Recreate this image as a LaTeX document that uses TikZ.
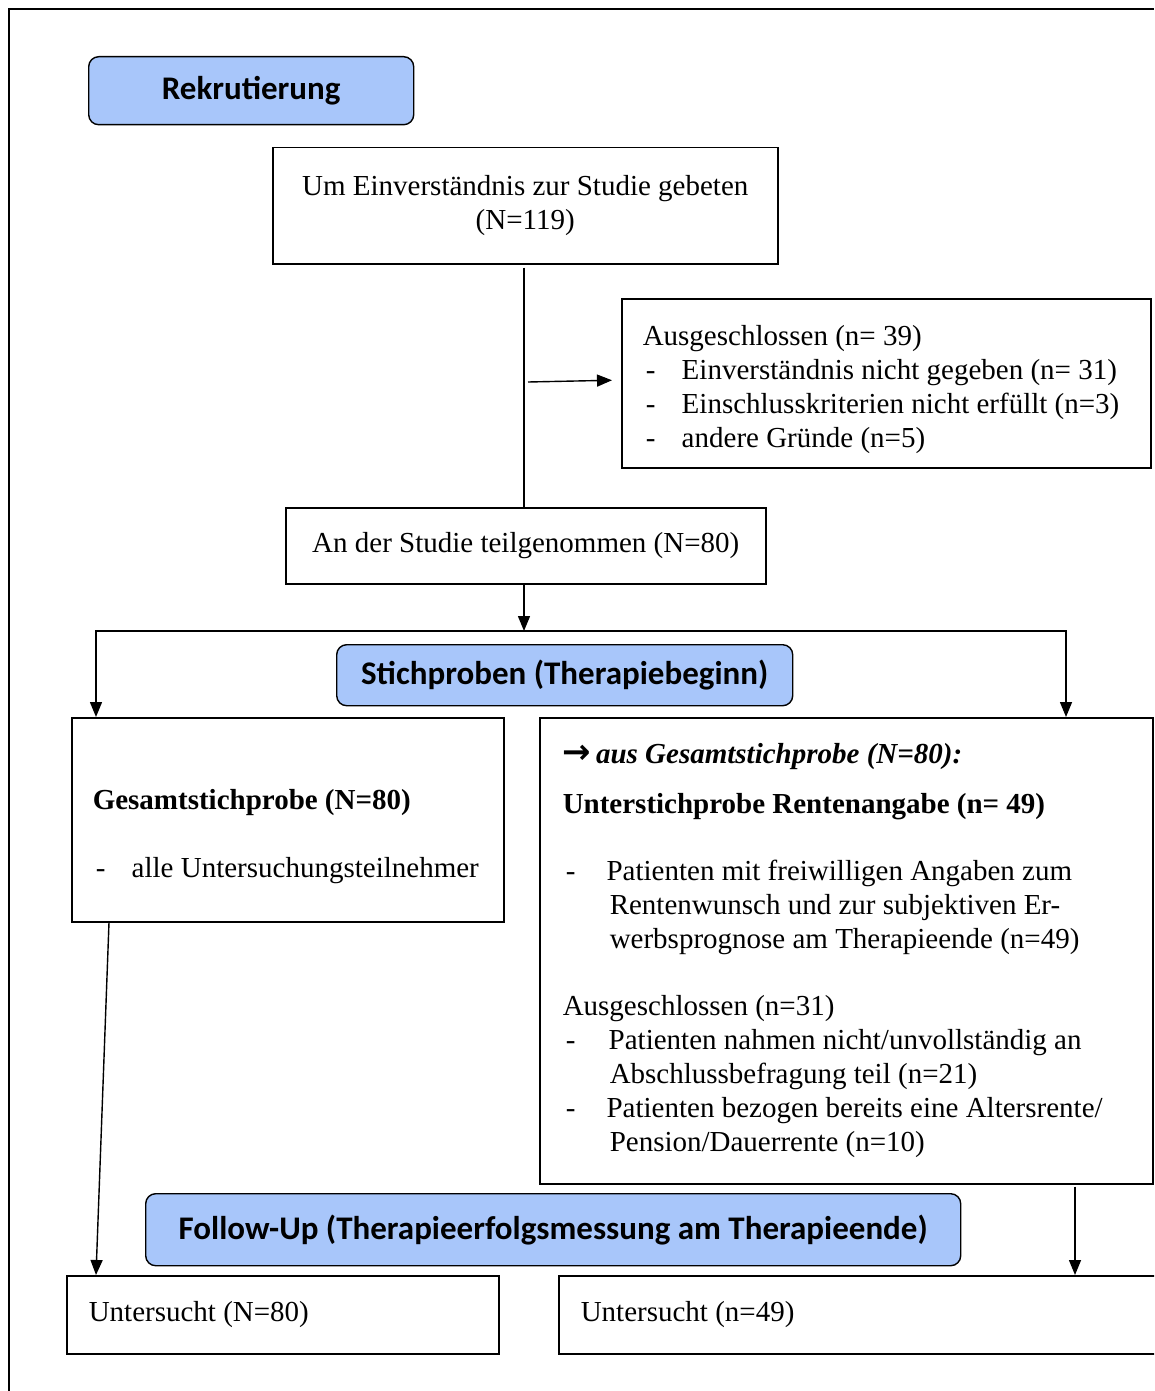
\documentclass[tikz,border=0pt]{standalone}
\usepackage{fontspec}
\setmainfont{Liberation Serif}
\newfontfamily\calibri{Carlito}
\newfontfamily\symfont{DejaVu Sans}
\usetikzlibrary{arrows.meta}
\definecolor{phaseblue}{RGB}{168,198,250}
\newcommand{\dashitem}[1]{\hspace*{3pt}\makebox[36pt][l]{-}#1}

\begin{document}
\begin{tikzpicture}[x=1pt, y=-1pt,
        font=\fontsize{29}{34}\selectfont,
        phase/.style={rectangle, draw, line width=1.4pt, fill=phaseblue, rounded corners=10pt, anchor=north west, font=\calibri\bfseries\fontsize{33}{36}\selectfont, align=center},
        stage/.style={rectangle, draw, line width=1.5pt, anchor=north west, inner sep=0pt, align=center},
        list/.style={stage, align=flush left, inner xsep=21pt},
        flow/.style={line width=1.4pt, -{Triangle[length=15pt, width=12pt]}}
    ]
    \useasboundingbox (0,0) rectangle (1154,1391);
    \clip (0,0) rectangle (1154,1391);
    \fill[white] (0,0) rectangle (1154,1391);
    \draw[line width=1.8pt] (9,1391) -- (9,9) -- (1154,9);

    % Phases
    \node[phase, minimum width=325pt, minimum height=68pt] (recruit) at (88,56) {Rekrutierung};
    \node[phase, minimum width=456pt, minimum height=61pt] (samples) at (336,644) {Stichproben (Therapiebeginn)};
    \node[phase, minimum width=815pt, minimum height=72pt] (followup) at (145,1193) {Follow-Up (Therapieerfolgsmessung am Therapieende)};

    % Boxes
    \node[stage, minimum width=505pt, minimum height=116pt] (asked) at (272,147) {Um Einverständnis zur Studie gebeten\\(N=119)};
    \node[list, text width=487pt, minimum width=529pt, minimum height=169pt] (excluded) at (621,298) {\rule{0pt}{32pt}Ausgeschlossen (n= 39)\\
        \dashitem{Einverständnis nicht gegeben (n= 31)}\\
        \dashitem{Einschlusskriterien nicht erfüllt (n=3)}\\
        \dashitem{andere Gründe (n=5)}};
    \node[stage, minimum width=480pt, minimum height=76pt] (joined) at (285,507) {An der Studie teilgenommen (N=80)};
    \node[list, text width=390pt, minimum width=432pt, minimum height=204pt] (total) at (71,717) {\rule{0pt}{54pt}\textbf{Gesamtstichprobe (N=80)}\\[34pt]
        \dashitem{alle Untersuchungsteilnehmer}};
    \node[list, inner xsep=23pt, text width=567pt, minimum width=613pt, minimum height=466pt] (subsample) at (539,717) {%
        {\symfont\bfseries\fontsize{34}{34}\selectfont →}\,\textbf{\textit{aus Gesamtstichprobe (N=80):}}\\[16pt]
        \textbf{Unterstichprobe Rentenangabe (n= 49)}\\[33pt]
        \dashitem{\,Patienten mit freiwilligen Angaben zum}\\
        \hspace*{47pt}Rentenwunsch und zur subjektiven Er-\\
        \hspace*{47pt}werbsprognose am Therapieende (n=49)\\[33pt]
        Ausgeschlossen (n=31)\\
        \dashitem{\hspace*{7pt}Patienten nahmen nicht/unvollständig an}\\
        \hspace*{47pt}Abschlussbefragung teil (n=21)\\
        \dashitem{\,Patienten bezogen bereits eine Altersrente/}\\
        \hspace*{47pt}Pension/Dauerrente (n=10)};
    \node[list, inner xsep=22pt, text width=388pt, minimum width=432pt, minimum height=78pt] (examinedall) at (66,1275) {Untersucht (N=80)};
    \node[list, inner xsep=22pt, text width=596pt, minimum width=640pt, minimum height=78pt] (examinedsub) at (558,1275) {Untersucht (n=49)};

    % Connections
    \coordinate (split) at (524,382);
    \coordinate (fork) at (524,631);
    \draw[line width=1.4pt] ([yshift=-3pt]asked.south -| split) -- (split |- joined.north);
    \draw[flow] ([xshift=4pt]split) -- ([xshift=-9pt, yshift=3pt]excluded.west);
    \draw[flow] (joined.south -| fork) -- (fork);
    \draw[flow] (fork) -| ([xshift=25pt]total.north west);
    \draw[flow] (fork) -| ([xshift=527pt]subsample.north west);
    \draw[flow] ([xshift=38pt]total.south west) -- ([xshift=30pt]examinedall.north west);
    \draw[flow] ([xshift=536pt, yshift=-2pt]subsample.south west) -- ([xshift=517pt]examinedsub.north west);

\end{tikzpicture}
\end{document}
